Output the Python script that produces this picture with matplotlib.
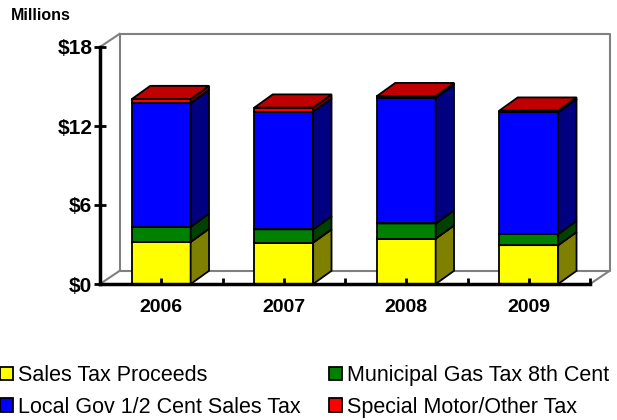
import matplotlib
matplotlib.use("Agg")
import matplotlib.pyplot as plt
from matplotlib.patches import Polygon, Patch

plt.rcParams['font.family'] = ['Liberation Sans', 'DejaVu Sans']

years = ['2006', '2007', '2008', '2009']
sales_tax = [3.2, 3.15, 3.45, 2.95]
gas_tax = [1.15, 1.0, 1.15, 0.85]
local_gov = [9.4, 8.95, 9.55, 9.25]
special_motor = [0.3, 0.3, 0.12, 0.12]

series = [
    ('Sales Tax Proceeds', sales_tax, '#ffff00', '#808000', '#c0c000'),
    ('Municipal Gas Tax 8th Cent', gas_tax, '#008000', '#004000', '#006000'),
    ('Local Gov 1/2 Cent Sales Tax', local_gov, '#0000ff', '#000080', '#0000c0'),
    ('Special Motor/Other Tax', special_motor, '#ff0000', '#800000', '#c00000'),
]

yticks = [0, 6, 12, 18]
ytick_labels = ['$0', '$6', '$12', '$18']

fig = plt.figure(figsize=(6.17, 4.2), dpi=100)
ax = fig.add_axes([100 / 617, 136 / 420, 490 / 617, 237 / 420])
ax.set_xlim(-0.5, 3.5)
ax.set_ylim(0, 18)

# depth of back wall and of the bars, in data units
wdx, wdy = 0.16, 1.0
bdx, bdy = 0.15, 1.0
bw = 0.48

# back wall and floor outline
gray = '#808080'
x0, x1 = ax.get_xlim()
y0, y1 = ax.get_ylim()
ax.plot([x0 + wdx, x0 + wdx, x1 + wdx, x1 + wdx, x0 + wdx],
        [y0 + wdy, y1 + wdy, y1 + wdy, y0 + wdy, y0 + wdy],
        color=gray, lw=1.5, clip_on=False, zorder=0.5)
for xa in (x0, x1):
    ax.plot([xa, xa + wdx], [y0, y0 + wdy], color=gray, lw=1.5, clip_on=False, zorder=0.5)
ax.plot([x0, x0 + wdx], [y1, y1 + wdy], color=gray, lw=1.5, clip_on=False, zorder=0.5)

# 3D stacked bars
for i in range(len(years)):
    base = 0.0
    left, right = i - bw / 2, i + bw / 2
    for name, vals, front, side, top in series:
        h = vals[i]
        t = base + h
        faces = [
            ([(left, base), (right, base), (right, t), (left, t)], front),
            ([(right, base), (right + bdx, base + bdy), (right + bdx, t + bdy), (right, t)], side),
            ([(left, t), (right, t), (right + bdx, t + bdy), (left + bdx, t + bdy)], top),
        ]
        for pts, c in faces:
            ax.add_patch(Polygon(pts, closed=True, facecolor=c, edgecolor='black',
                                 lw=1.3, joinstyle='miter', clip_on=False, zorder=1))
        base = t

for s in ('top', 'right'):
    ax.spines[s].set_visible(False)
for s in ('left', 'bottom'):
    ax.spines[s].set_linewidth(2.5)
    ax.spines[s].set_zorder(3)

ax.set_yticks(yticks)
ax.set_yticklabels(ytick_labels, fontsize=15, fontweight='bold')
ax.tick_params(axis='y', direction='inout', length=9, width=2, pad=1)

ax.set_xticks(range(len(years)))
ax.set_xticklabels(years, fontsize=14, fontweight='bold')
ax.set_xticks([0.5, 1.5, 2.5, 3.5], minor=True)
ax.tick_params(axis='x', which='both', direction='in', length=4, width=2, pad=11)

fig.text(11 / 617, 1 - 15 / 420, 'Millions', fontsize=11.5, fontweight='bold', va='center')

handles = [Patch(facecolor=c, edgecolor='black', lw=1.3, label=n) for n, _, c, _, _ in series]
order = [0, 2, 1, 3]
fig.legend([handles[k] for k in order], [series[k][0] for k in order],
           loc='upper left', bbox_to_anchor=(0.0, 1 - 365 / 420), ncol=2,
           frameon=False, fontsize=15.5, handlelength=0.6, handleheight=0.6,
           handletextpad=0.25, columnspacing=1.3, labelspacing=0.5,
           borderpad=0, borderaxespad=0)

fig.savefig('out.png', dpi=100)
